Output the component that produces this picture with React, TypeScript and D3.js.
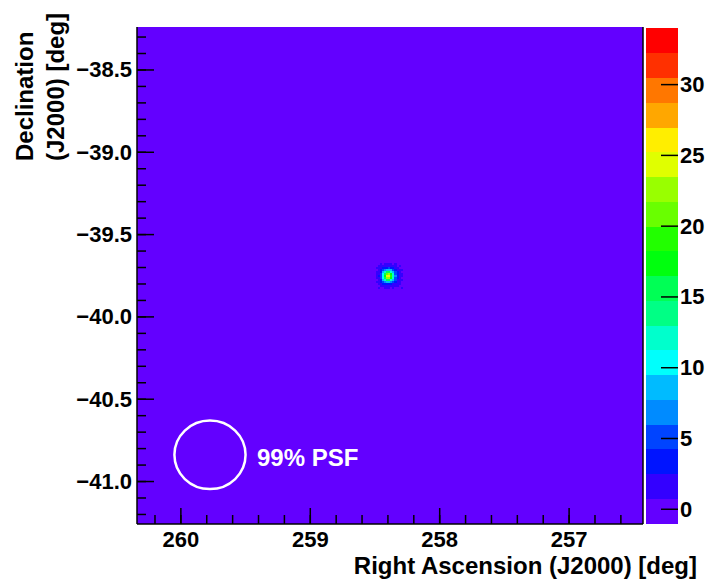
import React from "react";
import * as d3 from "d3";

// ---- data ----
const RA_DOMAIN = [260.339, 256.429];
const DEC_DOMAIN = [-41.258, -38.239];
const RA_TICKS = [260, 259, 258, 257];
const DEC_TICKS = [-38.5, -39.0, -39.5, -40.0, -40.5, -41.0];
const Z_MIN = -0.97;
const Z_MAX = 34;
const Z_TICKS = [0, 5, 10, 15, 20, 25, 30];
const N_CONTOURS = 20;

const SRC_RA = 258.39;
const SRC_DEC = -39.752;
const BIN_RA = 0.0163;
const BIN_DEC = 0.0125;
// counts per bin around the source (rows: north -> south, cols: east -> west)
const SOURCE_COUNTS = [
  [0, 0, 1, 0, 1, 1, 1, 1, 0, 1, 0, 0, 0],
  [0, 1, 1, 1, 2, 2, 2, 1, 1, 1, 0, 1, 0],
  [1, 1, 2, 3, 4, 4, 5, 3, 3, 2, 1, 0, 0],
  [0, 1, 3, 5, 7, 9, 9, 8, 5, 3, 2, 1, 1],
  [1, 2, 4, 8, 12, 15, 16, 13, 9, 5, 3, 1, 0],
  [1, 2, 5, 10, 16, 21, 22, 18, 12, 6, 3, 2, 1],
  [1, 3, 5, 11, 18, 25, 27, 20, 13, 7, 4, 2, 1],
  [1, 2, 5, 10, 16, 22, 23, 18, 12, 6, 3, 1, 0],
  [0, 2, 4, 8, 12, 15, 16, 13, 8, 5, 2, 1, 1],
  [1, 1, 3, 5, 7, 9, 9, 7, 5, 3, 2, 1, 0],
  [0, 1, 2, 3, 4, 4, 4, 3, 2, 2, 1, 1, 0],
  [0, 0, 1, 1, 2, 2, 2, 1, 1, 1, 1, 0, 0],
  [0, 1, 0, 0, 1, 1, 1, 0, 1, 0, 0, 0, 1],
];

const PSF_RA = 259.775;
const PSF_DEC = -40.838;
const PSF_RADIUS = 0.208;
const PSF_LABEL = "99% PSF";

const X_TITLE = "Right Ascension (J2000) [deg]";
const Y_TITLE_1 = "Declination";
const Y_TITLE_2 = "(J2000) [deg]";

// ---- layout ----
const W = 708;
const H = 580;
const PL = 137, PR = 643, PT = 27, PB = 524;
const CB_X0 = 646, CB_X1 = 678, CB_T = 28, CB_B = 523;
const FONT = "'Liberation Sans', Arial, Helvetica, sans-serif";

function bandOf(v: number) {
  let b = Math.floor(((v - Z_MIN) / (Z_MAX - Z_MIN)) * N_CONTOURS);
  return Math.max(0, Math.min(N_CONTOURS - 1, b));
}
function bandColor(b: number) {
  const idx = Math.floor((b + 0.99) * 50 / N_CONTOURS);
  const hue = 280 - (idx + 1) * 5.6;
  return d3.hsl(hue, 1, 0.5).formatHex();
}
const fmtMinus = (s: string) => s.replace("-", "\u2212");

export default function App() {
  const x = d3.scaleLinear().domain(RA_DOMAIN).range([PL, PR]);
  const y = d3.scaleLinear().domain(DEC_DOMAIN).range([PB, PT]);
  const zy = d3.scaleLinear().domain([Z_MIN, Z_MAX]).range([CB_B, CB_T]);

  const bg = bandColor(0);
  const n = SOURCE_COUNTS.length;
  const half = (n - 1) / 2;

  const cells: React.ReactNode[] = [];
  SOURCE_COUNTS.forEach((row, r) => {
    row.forEach((v, c) => {
      const b = bandOf(v);
      if (b === 0) return;
      const ra = SRC_RA - (c - half) * BIN_RA;
      const dec = SRC_DEC + (half - r) * BIN_DEC;
      const x0 = x(ra + BIN_RA / 2);
      const x1 = x(ra - BIN_RA / 2);
      const y0 = y(dec + BIN_DEC / 2);
      const y1 = y(dec - BIN_DEC / 2);
      cells.push(
        <rect key={`${r}-${c}`} x={Math.min(x0, x1)} y={y0} width={Math.abs(x1 - x0)} height={y1 - y0} fill={bandColor(b)} />
      );
    });
  });

  const raMinor = d3.range(256.4, 260.4, 0.2).filter((v) => v >= RA_DOMAIN[1] && v <= RA_DOMAIN[0]);
  const decMinor = d3.range(-41.2, -38.2, 0.1).filter((v) => v >= DEC_DOMAIN[0] && v <= DEC_DOMAIN[1]);

  const bands = d3.range(N_CONTOURS).map((b) => {
    const z0 = Z_MIN + (b * (Z_MAX - Z_MIN)) / N_CONTOURS;
    const z1 = Z_MIN + ((b + 1) * (Z_MAX - Z_MIN)) / N_CONTOURS;
    return { b, z0, z1 };
  });

  const cosDec = Math.cos((PSF_DEC * Math.PI) / 180);
  const psfCx = x(PSF_RA);
  const psfCy = y(PSF_DEC);
  const psfRx = Math.abs(x(PSF_RA + PSF_RADIUS / cosDec) - psfCx);
  const psfRy = Math.abs(y(PSF_DEC + PSF_RADIUS) - psfCy);

  return (
    <svg width={W} height={H} style={{ position: "absolute", left: 0, top: 0, background: "#fff" }} fontFamily={FONT}>
      {/* map */}
      <rect x={PL} y={PT} width={PR - PL} height={PB - PT} fill={bg} />
      <g shapeRendering="crispEdges">{cells}</g>

      {/* PSF */}
      <ellipse cx={psfCx} cy={psfCy} rx={psfRx} ry={psfRy} fill="none" stroke="#fff" strokeWidth={2.5} />
      <text x={257} y={466} fill="#fff" fontSize={24} fontWeight="bold">{PSF_LABEL}</text>

      {/* frame */}
      <g stroke="#000" strokeWidth={1.5} fill="none">
        <line x1={PL} y1={PT} x2={PL} y2={PB} />
        <line x1={PL} y1={PB} x2={PR} y2={PB} />
        <line x1={PR} y1={PT} x2={PR} y2={PB} />
      </g>

      {/* ticks */}
      <g stroke="#000" strokeWidth={1.5}>
        {raMinor.map((v, i) => (
          <line key={"xm" + i} x1={x(v)} x2={x(v)} y1={PB} y2={PB - 9} />
        ))}
        {RA_TICKS.map((v) => (
          <line key={"xM" + v} x1={x(v)} x2={x(v)} y1={PB} y2={PB - 16} />
        ))}
        {decMinor.map((v, i) => (
          <line key={"ym" + i} x1={PL} x2={PL + 9} y1={y(v)} y2={y(v)} />
        ))}
        {DEC_TICKS.map((v) => (
          <line key={"yM" + v} x1={PL} x2={PL + 17} y1={y(v)} y2={y(v)} />
        ))}
      </g>
      <g fontSize={22} fontWeight="bold" fill="#000">
        {RA_TICKS.map((v) => (
          <text key={"xl" + v} x={x(v)} y={547} textAnchor="middle">{String(v)}</text>
        ))}
        {DEC_TICKS.map((v) => (
          <text key={"yl" + v} x={132} y={y(v)} textAnchor="end" dominantBaseline="central">{fmtMinus(v.toFixed(1))}</text>
        ))}
      </g>

      {/* axis titles */}
      <g fontSize={24} fontWeight="bold" fill="#000">
        <text x={697} y={573.5} textAnchor="end">{X_TITLE}</text>
        <text transform={`translate(33,161) rotate(-90)`} textAnchor="start">{Y_TITLE_1}</text>
        <text transform={`translate(63.5,161) rotate(-90)`} textAnchor="start">{Y_TITLE_2}</text>
      </g>

      {/* colour bar */}
      <g shapeRendering="crispEdges">
        {bands.map(({ b, z0, z1 }) => (
          <rect key={"cb" + b} x={CB_X0} y={zy(z1)} width={CB_X1 - CB_X0} height={zy(z0) - zy(z1) + 0.5} fill={bandColor(b)} />
        ))}
      </g>
      <g stroke="#000" strokeWidth={1.5}>
        {Z_TICKS.map((v) => (
          <line key={"zt" + v} x1={CB_X1 - 17} x2={CB_X1} y1={zy(v)} y2={zy(v)} />
        ))}
      </g>
      <g fontSize={22} fontWeight="bold" fill="#000">
        {Z_TICKS.map((v) => (
          <text key={"zl" + v} x={680} y={zy(v)} dominantBaseline="central">{String(v)}</text>
        ))}
      </g>
    </svg>
  );
}
